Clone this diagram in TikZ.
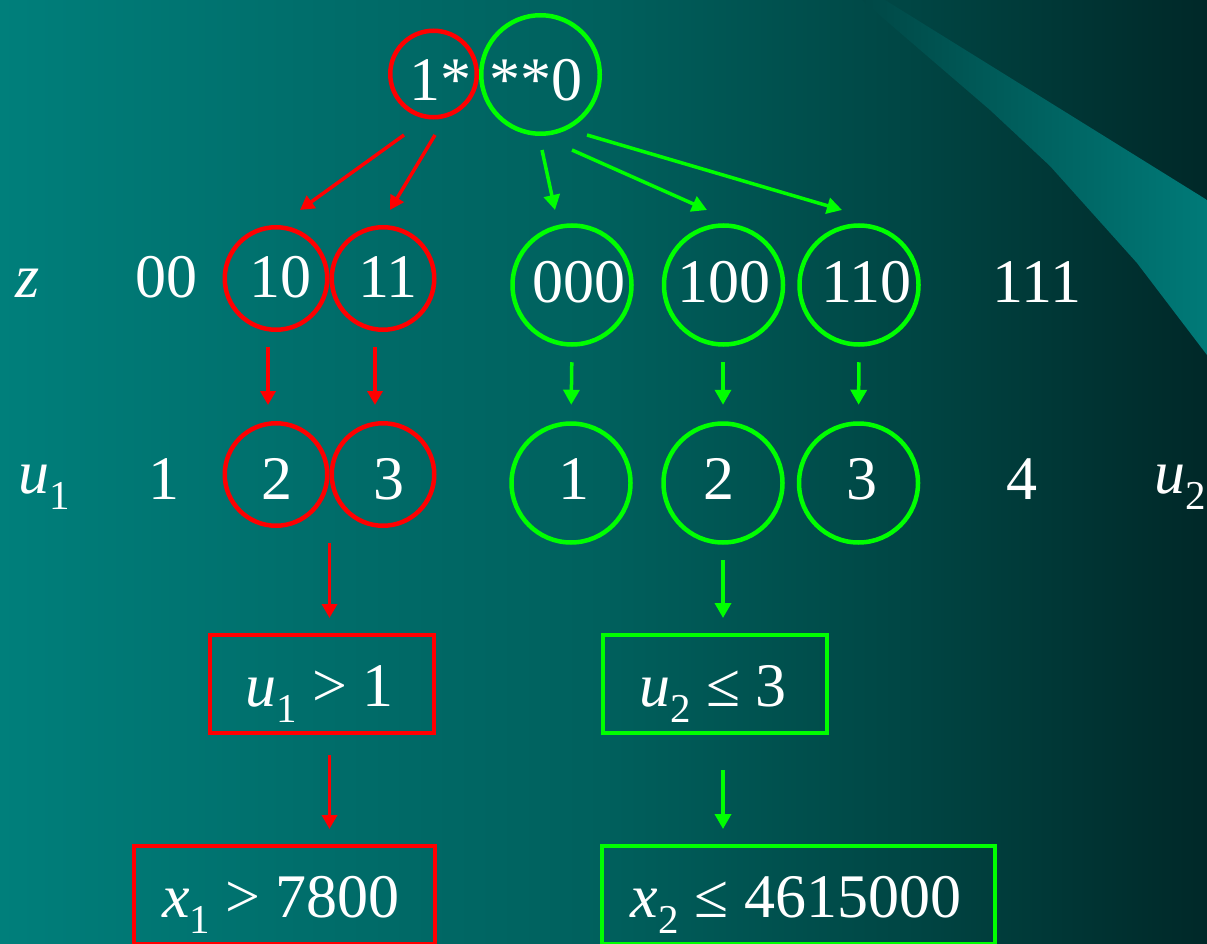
\documentclass[tikz,border=0pt]{standalone}
\usepackage{fontspec}
\setmainfont{Liberation Serif}
\usetikzlibrary{arrows.meta,calc}
\definecolor{bgA}{RGB}{0,127,123}
\definecolor{bgB}{RGB}{0,110,107}
\definecolor{bgC}{RGB}{0,96,93}
\definecolor{bgD}{RGB}{0,70,68}
\definecolor{bgE}{RGB}{0,40,40}
\definecolor{wingL}{RGB}{0,72,70}
\definecolor{wingR}{RGB}{0,122,120}
\definecolor{rd}{RGB}{255,0,0}
\definecolor{gn}{RGB}{0,255,0}
\pgfdeclarehorizontalshading{bgshade}{100bp}{color(0bp)=(bgA); color(25bp)=(bgA); color(37.5bp)=(bgB); color(50bp)=(bgC); color(62.5bp)=(bgD); color(75bp)=(bgE); color(100bp)=(bgE)}
\newcommand\ctx[3]{\smash{\makebox[0pt]{\hspace*{#1}\raisebox{-#2}{#3}}}}
\newcommand\lsub[1]{\raisebox{-16pt}{\fontsize{41pt}{41pt}\selectfont #1}}
\tikzset{
  txt/.style={text=white, inner sep=0pt, font=\fontsize{62pt}{74pt}\selectfont},
  rc/.style={circle, draw=rd, line width=4.5pt, inner sep=0pt, minimum size=#1, txt},
  gc/.style={circle, draw=gn, line width=4.5pt, inner sep=0pt, minimum size=#1, txt},
  rbox/.style={rectangle, draw=rd, line width=4pt, inner sep=0pt, txt},
  gbox/.style={rectangle, draw=gn, line width=4pt, inner sep=0pt, txt},
  rarr/.style={draw=rd, line width=3.5pt, -{Triangle[length=14pt,width=15pt]}},
  garr/.style={draw=gn, line width=3.5pt, -{Triangle[length=15pt,width=16pt]}}
}
\begin{document}
\begin{tikzpicture}[x=1pt,y=-1pt]
\useasboundingbox (0,0) rectangle (1207,944);
\clip (0,0) rectangle (1207,944);
\shade[shading=bgshade] (0,0) rectangle (1207,944);
\shade[left color=wingL, right color=wingR] (862,0) -- (885,0) -- (1207,200) -- (1207,355) -- (1137,263) -- (1050,166) -- (990,110) -- cycle;

% top
\node[rc=86.5pt] (tr) at (433.5,74) {\ctx{13pt}{27pt}{1*}};
\node[gc=118.5pt] (tg) at (540.5,74.5) {\ctx{-9pt}{26.5pt}{**0}};

% z row
\node[txt, anchor=base] (zl) at (28,297) {\textit{z}};
\node[txt, anchor=base] (z00) at (166,297) {00};
\node[rc=102.5pt] (z10) at (276,278.5) {\ctx{8pt}{18.5pt}{10}};
\node[rc=102.5pt] (z11) at (383,278.5) {\ctx{10pt}{18.5pt}{11}};
\node[gc=119pt] (z000) at (572,285) {\ctx{13pt}{17pt}{000}};
\node[gc=119pt] (z100) at (723.5,285) {\ctx{0pt}{17pt}{100}};
\node[gc=119pt] (z110) at (859,285) {\ctx{15pt}{17pt}{110}};
\node[txt, anchor=base] (z111) at (1037,302) {111};

% u row
\node[txt, anchor=base] (ul) at (44,493) {\textit{u}\lsub{1}};
\node[txt, anchor=base] (u1p) at (164,499) {1};
\node[rc=102.5pt] (u2) at (276,474.5) {\ctx{2pt}{24.5pt}{2}};
\node[rc=102.5pt] (u3) at (383,474.5) {\ctx{11pt}{24.5pt}{3}};
\node[gc=119pt] (v1) at (571,483) {\ctx{6pt}{16pt}{1}};
\node[gc=119pt] (v2) at (723,483) {\ctx{-9pt}{16pt}{2}};
\node[gc=119pt] (v3) at (858.5,483) {\ctx{6pt}{16pt}{3}};
\node[txt, anchor=base] (u4) at (1022,499) {4};
\node[txt, anchor=base] (ur) at (1180,493) {\textit{u}\lsub{2}};

% boxes
\node[rbox, minimum width=224pt, minimum height=98pt] (rb1) at (322,684) {\ctx{-5pt}{22pt}{\textit{u}\lsub{1} > 1}};
\node[gbox, minimum width=224pt, minimum height=98pt] (gb1) at (715,684) {\ctx{-4pt}{22pt}{\textit{u}\lsub{2} ≤ 3}};
\node[rbox, minimum width=301pt, minimum height=98pt] (rb2) at (284.5,895) {\ctx{-7pt}{22pt}{\textit{x}\lsub{1} > 7800}};
\node[gbox, minimum width=393pt, minimum height=98pt] (gb2) at (798.5,895) {\ctx{-5pt}{22pt}{\textit{x}\lsub{2} ≤ 4615000}};

% diagonal arrows from top
\coordinate (r1s) at ($(tr)+(-29.5,61)$);
\coordinate (r1e) at ($(z10)+(24,-68.5)$);
\coordinate (r2s) at ($(tr)+(1.5,61)$);
\coordinate (r2e) at ($(z11)+(7,-68.5)$);
\coordinate (g1s) at ($(tg)+(1.5,75.5)$);
\coordinate (g1e) at ($(z000)+(-17,-75)$);
\coordinate (g2s) at ($(tg)+(31.5,75.5)$);
\coordinate (g2e) at ($(z100)+(-16.5,-75)$);
\coordinate (g3s) at ($(tg)+(46.5,60.5)$);
\coordinate (g3e) at ($(z110)+(-17,-75)$);
\draw[rarr] (r1s) -- (r1e);
\draw[rarr] (r2s) -- (r2e);
\draw[garr] (g1s) -- (g1e);
\draw[garr] (g2s) -- (g2e);
\draw[garr] (g3s) -- (g3e);

% z -> u arrows
\draw[rarr, shorten <=15pt, shorten >=16pt] ([xshift=-8pt]z10.south) -- ([xshift=-8pt]u2.north);
\draw[rarr, shorten <=15pt, shorten >=16pt] ([xshift=-8pt]z11.south) -- ([xshift=-8pt]u3.north);
\draw[garr, shorten <=15.5pt, shorten >=16.5pt] (z000.south) -- (v1.north);
\draw[garr, shorten <=15.5pt, shorten >=16.5pt] ([xshift=-0.5pt]z100.south) -- (v2.north);
\draw[garr, shorten <=15.5pt, shorten >=16.5pt] (z110.south) -- (v3.north);

% u -> boxes
\coordinate (rmid) at ($(u2.south)!0.5!(u3.south)$);
\draw[rarr, shorten <=15pt, shorten >=15pt] (rmid) -- (rmid |- rb1.north);
\draw[garr, shorten <=15.5pt, shorten >=15pt] (v2.south) -- (v2.south |- gb1.north);

% box -> box
\draw[rarr, shorten <=20pt, shorten >=15pt] (rmid |- rb1.south) -- (rmid |- rb2.north);
\draw[garr, shorten <=35pt, shorten >=15pt] (v2.south |- gb1.south) -- (v2.south |- gb2.north);
\end{tikzpicture}
\end{document}
